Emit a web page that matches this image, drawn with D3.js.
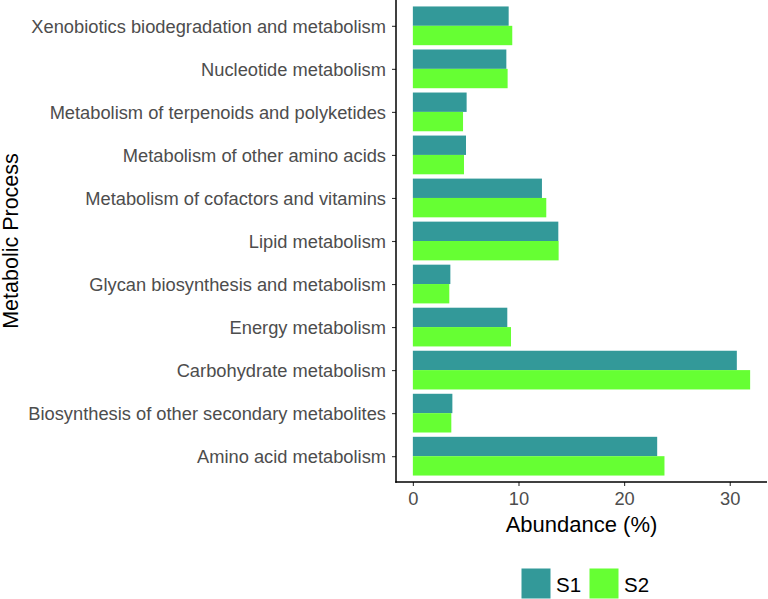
<!DOCTYPE html>
<html><head><meta charset="utf-8">
<script src="https://cdn.jsdelivr.net/npm/d3@7"></script>
<style>body{margin:0;background:#fff}svg{display:block}text{font-family:"Liberation Sans",Arial,sans-serif}</style>
</head><body>
<svg id="c" width="768" height="599"></svg>
<script>
const categories = [
  "Xenobiotics biodegradation and metabolism",
  "Nucleotide metabolism",
  "Metabolism of terpenoids and polyketides",
  "Metabolism of other amino acids",
  "Metabolism of cofactors and vitamins",
  "Lipid metabolism",
  "Glycan biosynthesis and metabolism",
  "Energy metabolism",
  "Carbohydrate metabolism",
  "Biosynthesis of other secondary metabolites",
  "Amino acid metabolism"
];
const seriesNames = ["S1", "S2"];
const s1Values = [9.07, 8.85, 5.09, 5.03, 12.22, 13.77, 3.55, 8.94, 30.67, 3.74, 23.13];
const s2Values = [9.41, 8.97, 4.75, 4.84, 12.63, 13.80, 3.45, 9.29, 31.93, 3.64, 23.82];
const xTicks = [0, 10, 20, 30];
const colors = ["#339999", "#66ff33"];

const svg = d3.select("#c");
const pL = 396, pR = 767, pT = 0, pB = 482;
const maxV = d3.max(s1Values.concat(s2Values));
const x = d3.scaleLinear().domain([-0.05*maxV, 1.05*maxV]).range([pL, pR]);
const n = categories.length;
const yc = d3.scaleLinear().domain([0.4, n + 0.6]).range([pT, pB]);
const step = yc(2) - yc(1);
const bw = 0.9 * step;

const data = categories.map((c, i) => ({c, i, v: [s1Values[i], s2Values[i]]}));
const g = svg.append("g");
data.forEach(d => {
  const cy = yc(d.i + 1);
  seriesNames.forEach((s, k) => {
    const v = d.v[k];
    g.append("rect")
      .attr("x", x(0)).attr("width", x(v) - x(0))
      .attr("y", cy - bw/2 + k*bw/2).attr("height", bw/2)
      .attr("fill", colors[k]);
  });
});

// axes
const yAxisG = svg.append("g").attr("transform", `translate(${pL},0)`);
const yScaleP = d3.scalePoint().domain(categories).range([yc(1), yc(n)]);
yAxisG.call(d3.axisLeft(yScaleP).tickSize(4).tickPadding(6));
yAxisG.select(".domain").remove();
yAxisG.selectAll(".tick line").attr("stroke", "#333").attr("stroke-width", 1.1);
yAxisG.selectAll(".tick text").attr("fill", "#4d4d4d").style("font-size", "18.3px").attr("dy", "0.35em");

const xAxisG = svg.append("g").attr("transform", `translate(0,${pB})`);
xAxisG.call(d3.axisBottom(x).tickValues(xTicks).tickFormat(d3.format("d")).tickSize(4).tickPadding(6));
xAxisG.select(".domain").remove();
xAxisG.selectAll(".tick line").attr("stroke", "#333").attr("stroke-width", 1.1);
xAxisG.selectAll(".tick text").attr("fill", "#4d4d4d").style("font-size", "18.3px");

svg.append("line").attr("x1", pL).attr("x2", pL).attr("y1", pT).attr("y2", pB + 0.75)
  .attr("stroke", "#000").attr("stroke-width", 1.5);
svg.append("line").attr("x1", pL - 0.75).attr("x2", pR).attr("y1", pB).attr("y2", pB)
  .attr("stroke", "#000").attr("stroke-width", 1.5);

// titles
svg.append("text").attr("x", (pL + pR)/2).attr("y", 531.5).attr("text-anchor", "middle")
  .style("font-size", "22px").attr("fill", "#000").text("Abundance (%)");
svg.append("text").attr("transform", `translate(18,${(pT+pB)/2}) rotate(-90)`)
  .attr("text-anchor", "middle").style("font-size", "21.5px").attr("fill", "#000").text("Metabolic Process");

// legend
const lg = svg.append("g");
const keyX = [521.5, 589.5];
seriesNames.forEach((s, k) => {
  lg.append("rect").attr("x", keyX[k]).attr("y", 568.5).attr("width", 29).attr("height", 30).attr("fill", colors[k]);
  lg.append("text").attr("x", keyX[k] + 34.5).attr("y", 591.7).style("font-size", "20.5px").attr("fill", "#000").text(s);
});
</script>
</body></html>
